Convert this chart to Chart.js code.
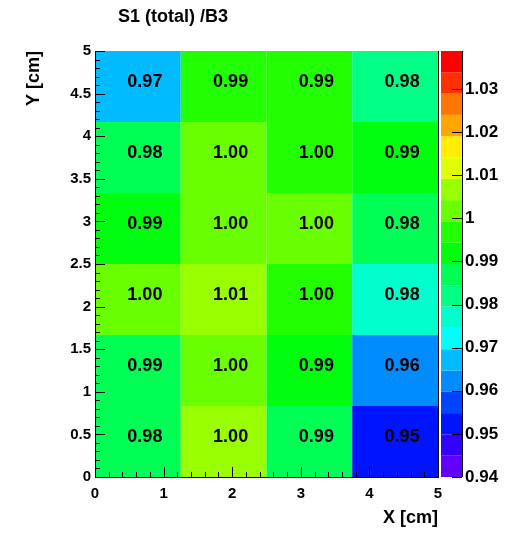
<!DOCTYPE html>
<html>
<head>
<meta charset="utf-8">
<title>S1 (total) /B3</title>
<script src="https://cdn.jsdelivr.net/npm/chart.js@4.4.1/dist/chart.umd.min.js"></script>
<style>
  html, body { margin: 0; padding: 0; background: #fff; }
  #wrap { width: 509px; height: 534px; }
</style>
</head>
<body>
<div id="wrap"><canvas id="mapChart" width="509" height="534"></canvas></div>
<script>
// ============================================
// data — S1 (total) / B3 ratio map
// ============================================
const chartTitle = 'S1 (total) /B3';
const xTitle = 'X [cm]';
const yTitle = 'Y [cm]';

const xEdges = [0, 1.25, 2.5, 3.75, 5];
const yEdges = [0, 5 / 6, 10 / 6, 2.5, 20 / 6, 25 / 6, 5];

// one array per row of cells, from y = 0 (bottom) up to y = 5 (top)
const rowY0 = [0.9848, 1.0044, 0.987, 0.952];
const rowY1 = [0.987, 1.001, 0.991, 0.962];
const rowY2 = [1.002, 1.006, 0.997, 0.977];
const rowY3 = [0.991, 1.001, 1.001, 0.9848];
const rowY4 = [0.9848, 1.002, 0.997, 0.992];
const rowY5 = [0.968, 0.9947, 0.9947, 0.982];
const cellRows = [rowY0, rowY1, rowY2, rowY3, rowY4, rowY5];

// colour scale
const zMin = 0.94;
const zMax = 1.0388;
const zLevels = 20;

const FONT = '"Liberation Sans", Arial, Helvetica, sans-serif';

// ROOT "pretty" palette: 50 hues from violet to red, 20 contours picked from it
function levelColor(i) {
  const k = Math.floor((i + 0.99) * 50 / zLevels);
  const hue = 280 - (k + 1) * 5.6;
  return `hsl(${hue}, 100%, 50%)`;
}

function zColor(v) {
  const dz = (zMax - zMin) / zLevels;
  let i = Math.floor((v - zMin) / dz);
  i = Math.max(0, Math.min(zLevels - 1, i));
  return levelColor(i);
}

const fmt = v => String(parseFloat(Number(v).toFixed(2)));

// points at cell centres (the plugin below fills the cells around them)
const cellPoints = [];
cellRows.forEach((row, r) => {
  row.forEach((v, c) => {
    cellPoints.push({ x: (xEdges[c] + xEdges[c + 1]) / 2, y: (yEdges[r] + yEdges[r + 1]) / 2, v });
  });
});

// ============================================
// plugin — cells, texts, colour bar, inner ticks
// ============================================
const heatmapPlugin = {
  id: 'heatmap',
  afterDatasetsDraw(chart) {
    const { ctx, chartArea } = chart;
    const xs = chart.scales.x, ys = chart.scales.y, zs = chart.scales.z;
    ctx.save();

    // cells
    cellRows.forEach((row, r) => {
      row.forEach((v, c) => {
        const x0 = xs.getPixelForValue(xEdges[c]);
        const x1 = xs.getPixelForValue(xEdges[c + 1]);
        const y0 = ys.getPixelForValue(yEdges[r]);
        const y1 = ys.getPixelForValue(yEdges[r + 1]);
        ctx.fillStyle = zColor(v);
        ctx.fillRect(x0, y1, x1 - x0, y0 - y1);
      });
    });

    // cell labels
    ctx.fillStyle = '#000';
    ctx.font = `bold 18px ${FONT}`;
    ctx.textAlign = 'center';
    ctx.textBaseline = 'middle';
    cellPoints.forEach(p => {
      ctx.fillText(p.v.toFixed(2), xs.getPixelForValue(p.x) + 7, ys.getPixelForValue(p.y) - 4);
    });

    // frame, right side
    ctx.strokeStyle = '#000';
    ctx.lineWidth = 1;
    ctx.beginPath();
    ctx.moveTo(chartArea.right + 0.5, chartArea.top);
    ctx.lineTo(chartArea.right + 0.5, chartArea.bottom);
    ctx.stroke();

    // colour bar
    const barL = chartArea.right + 3;
    const barR = chartArea.right + 24;
    const dz = (zMax - zMin) / zLevels;
    for (let i = 0; i < zLevels; i++) {
      const yb = zs.getPixelForValue(zMin + i * dz);
      const yt = zs.getPixelForValue(zMin + (i + 1) * dz);
      ctx.fillStyle = levelColor(i);
      ctx.fillRect(barL, yt, barR - barL, yb - yt);
    }
    ctx.beginPath();
    ctx.moveTo(barR + 0.5, chartArea.top);
    ctx.lineTo(barR + 0.5, chartArea.bottom);
    ctx.stroke();
    zs.ticks.forEach(t => {
      const py = Math.round(zs.getPixelForValue(t.value)) + 0.5;
      ctx.beginPath();
      ctx.moveTo(barR, py);
      ctx.lineTo(barR - 10, py);
      ctx.stroke();
    });

    // axis ticks, pointing inwards like ROOT
    for (let i = 0; i <= 25; i++) {
      const v = i * 0.2;
      const px = Math.round(xs.getPixelForValue(v)) + 0.5;
      const len = i % 5 === 0 ? 10 : 5;
      ctx.beginPath();
      ctx.moveTo(px, chartArea.bottom);
      ctx.lineTo(px, chartArea.bottom - len);
      ctx.stroke();
    }
    for (let i = 0; i <= 50; i++) {
      const v = i * 0.1;
      const py = Math.round(ys.getPixelForValue(v)) + 0.5;
      const len = i % 5 === 0 ? 10 : 5;
      ctx.beginPath();
      ctx.moveTo(chartArea.left, py);
      ctx.lineTo(chartArea.left + len, py);
      ctx.stroke();
    }

    // title
    ctx.fillStyle = '#000';
    ctx.font = `bold 18px ${FONT}`;
    ctx.textAlign = 'left';
    ctx.textBaseline = 'alphabetic';
    ctx.fillText(chartTitle, 118, 22);

    ctx.restore();
  },
};

// ============================================
// chart
// ============================================
const tickFont = size => ({ family: FONT, weight: 'bold', size });

new Chart(document.getElementById('mapChart'), {
  type: 'scatter',
  data: {
    datasets: [{
      label: chartTitle,
      data: cellPoints,
      pointRadius: 0,
      pointHoverRadius: 0,
    }],
  },
  options: {
    responsive: false,
    animation: false,
    devicePixelRatio: 1,
    layout: { padding: { top: 51, left: 0, right: 0, bottom: 0 } },
    plugins: {
      legend: { display: false },
      tooltip: { enabled: false },
      title: { display: false },
    },
    scales: {
      x: {
        type: 'linear',
        position: 'bottom',
        min: 0,
        max: 5,
        afterFit: s => { s.height = 57; },
        grid: { display: false, drawTicks: false },
        border: { display: true, color: '#000', width: 1, z: 1 },
        ticks: {
          stepSize: 1,
          color: '#000',
          font: tickFont(15),
          padding: 8,
          maxRotation: 0,
          autoSkip: false,
          callback: fmt,
        },
        title: {
          display: true,
          text: xTitle,
          align: 'end',
          color: '#000',
          font: tickFont(18),
          padding: { top: 0, bottom: 5 },
        },
      },
      y: {
        type: 'linear',
        position: 'left',
        min: 0,
        max: 5,
        afterFit: s => { s.width = 95; },
        grid: { display: false, drawTicks: false },
        border: { display: true, color: '#000', width: 1, z: 1 },
        ticks: {
          stepSize: 0.5,
          color: '#000',
          font: tickFont(15),
          padding: 4,
          autoSkip: false,
          callback: fmt,
        },
        title: {
          display: true,
          text: yTitle,
          align: 'end',
          color: '#000',
          font: tickFont(18),
          padding: { top: 23, bottom: 0 },
        },
      },
      z: {
        type: 'linear',
        position: 'right',
        min: zMin,
        max: zMax,
        afterFit: s => { s.width = 71; },
        grid: { display: false, drawTicks: false },
        border: { display: false },
        ticks: {
          stepSize: 0.01,
          includeBounds: false,
          color: '#000',
          font: tickFont(17),
          padding: 27,
          autoSkip: false,
          callback: fmt,
        },
      },
    },
  },
  plugins: [heatmapPlugin],
});
</script>
</body>
</html>
